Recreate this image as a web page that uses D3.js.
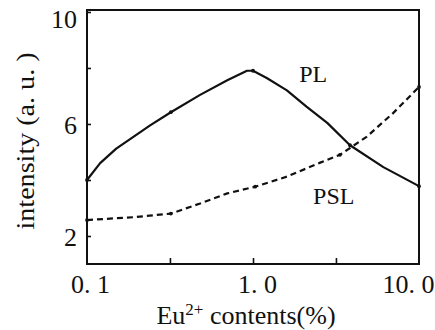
<!DOCTYPE html>
<html><head><meta charset="utf-8">
<script src="https://cdn.jsdelivr.net/npm/d3@7"></script>
<style>
html,body{margin:0;padding:0;background:#fff;}
svg{display:block;}
</style></head>
<body>
<svg id="c" width="435" height="330"></svg>
<script>
// ---- data ----
const plX  = [0.1, 0.12, 0.15, 0.24, 0.32, 0.48, 0.70, 0.92, 1.0, 1.21, 1.6, 2.1, 2.8, 3.84, 6.1, 10];
const plY  = [4.0, 4.6, 5.12, 5.95, 6.42, 7.04, 7.56, 7.9, 7.9, 7.64, 7.2, 6.62, 6.04, 5.24, 4.46, 3.78];
const pslX = [0.1, 0.19, 0.32, 0.48, 0.70, 1.03, 1.6, 2.54, 3.34, 4.83, 6.96, 10];
const pslY = [2.57, 2.67, 2.8, 3.16, 3.52, 3.76, 4.12, 4.62, 4.9, 5.54, 6.38, 7.32];
const xTickVals = [0.1, 0.316, 1, 3.16, 10];
const xTickLabels = ["0. 1", "", "1. 0", "", "10. 0"];
const yTickVals = [2, 4, 6, 8, 10];
const yTickLabels = ["2", "", "6", "", "10"];
const seriesNames = ["PL", "PSL"];

const FONT = "'Liberation Serif', 'Times New Roman', serif";
const INK = "#111";

// ---- layout ----
const svg = d3.select("#c").style("font-family", FONT);
const L = 87, R = 419, T = 10, B = 264;
const x = d3.scaleLog().domain([0.1, 10]).range([L, R]);
const y = d3.scaleLinear().domain([1, 10.07]).range([B, T]);

// frame
svg.append("rect").attr("x", L).attr("y", T).attr("width", R - L).attr("height", B - T)
  .attr("fill", "none").attr("stroke", INK).attr("stroke-width", 2);

// y axis ticks (inward) and labels
const yAxis = d3.axisLeft(y).tickValues(yTickVals).tickSize(-4)
  .tickFormat((d, i) => yTickLabels[i]);
const gy = svg.append("g").attr("transform", `translate(${L},0)`).call(yAxis);
gy.attr("font-family", null);
gy.select(".domain").remove();
gy.selectAll(".tick line").attr("stroke", INK).attr("stroke-width", 1.6);
gy.selectAll(".tick text").attr("x", -10).attr("font-size", 26)
  .style("font-family", FONT).attr("fill", INK)
  .attr("dy", (d) => d === 10 ? "0.6em" : "0.35em");

// x axis ticks (inward) and labels
const xAxis = d3.axisBottom(x).tickValues(xTickVals).tickSize(-6)
  .tickFormat((d, i) => xTickLabels[i]);
const gx = svg.append("g").attr("transform", `translate(0,${B})`).call(xAxis);
gx.attr("font-family", null);
gx.select(".domain").remove();
gx.selectAll(".tick line").attr("stroke", INK).attr("stroke-width", 1.6)
  .attr("opacity", (d) => (d === 0.1 || d === 10) ? 0 : 1);
gx.selectAll(".tick text").attr("y", 11).attr("font-size", 26)
  .style("font-family", FONT).attr("fill", INK)
  .attr("dx", (d) => d === 0.1 ? 3 : d === 10 ? -11 : 4);

// lines
const line = d3.line().x(d => x(d[0])).y(d => y(d[1])).curve(d3.curveLinear);
const plData = plX.map((v, i) => [v, plY[i]]);
const pslData = pslX.map((v, i) => [v, pslY[i]]);
svg.append("path").datum(plData).attr("d", line).attr("fill", "none")
  .attr("stroke", INK).attr("stroke-width", 2.2).attr("stroke-linejoin", "round");
svg.append("path").datum(pslData).attr("d", line).attr("fill", "none")
  .attr("stroke", INK).attr("stroke-width", 2.2).attr("stroke-dasharray", "6,4");

// small point markers at measured points
const markIdx = [[0, 4, 8, 13, 15], [0, 2, 5, 8, 11]];
[plData, pslData].forEach((data, s) => {
  svg.append("g").selectAll("circle").data(markIdx[s].map(i => data[i])).join("circle")
    .attr("cx", d => x(d[0])).attr("cy", d => y(d[1])).attr("r", 1.9).attr("fill", INK);
});

// series labels
svg.append("text").attr("x", x(1.9)).attr("y", y(7.5)).attr("font-size", 24)
  .style("font-family", FONT).attr("fill", INK).text(seriesNames[0]);
svg.append("text").attr("x", x(2.3)).attr("y", y(3.15)).attr("font-size", 24)
  .style("font-family", FONT).attr("fill", INK).text(seriesNames[1]);

// axis titles
svg.append("text").attr("transform", `translate(34,141) rotate(-90)`)
  .attr("text-anchor", "middle").attr("font-size", 25).style("font-family", FONT).attr("fill", INK)
  .attr("textLength", 177).attr("lengthAdjust", "spacingAndGlyphs")
  .text("intensity (a. u. )");

const xt = svg.append("text").attr("x", 246).attr("y", 324)
  .attr("text-anchor", "middle").attr("font-size", 26).style("font-family", FONT).attr("fill", INK);
xt.append("tspan").text("Eu");
xt.append("tspan").attr("font-size", 17).attr("dy", -9).text("2+");
xt.append("tspan").attr("dy", 9).text(" contents(%)");
</script>
</body></html>
